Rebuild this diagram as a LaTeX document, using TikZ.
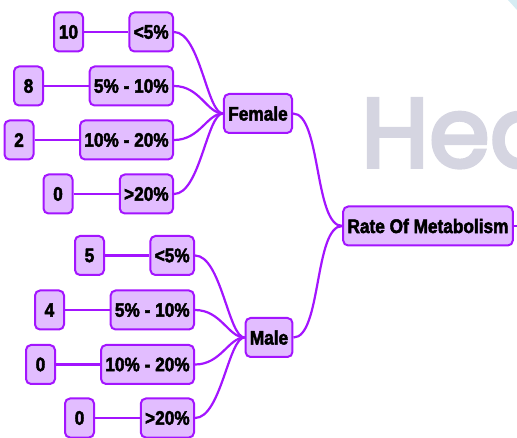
\documentclass[tikz,border=0pt]{standalone}
\usepackage{fontspec}
\setmainfont{Liberation Sans}
\newfontfamily\wmfont{Poppins}
\definecolor{boxfill}{RGB}{226,189,255}
\definecolor{boxline}{RGB}{163,20,255}
\definecolor{wmgray}{RGB}{213,213,225}
\definecolor{cornerblue}{RGB}{214,236,243}
\newcommand{\sqtext}[1]{\scalebox{0.88}[1]{\special{pdf:code 2 Tr 0.5 w}#1\special{pdf:code 0 Tr 1 w}}}
\newcommand{\heavytext}[1]{\special{pdf:code 2 Tr 3.5 w}#1\special{pdf:code 0 Tr 1 w}}
\begin{document}
\begin{tikzpicture}[x=1pt,y=-1pt,
  box/.style={draw=boxline, fill=boxfill, line width=2pt, rounded corners=5pt,
    minimum height=39pt, minimum width=29pt, inner xsep=4.3pt, text=black,
    font=\fontsize{19.6}{22}\selectfont\bfseries},
  link/.style={draw=boxline, line width=2.2pt},
  fan/.style={link},
  watermark/.style={text=wmgray, font=\wmfont\fontsize{98}{98}\selectfont, inner sep=0pt}]
\useasboundingbox (0,0) rectangle (517,438);
\clip (0,0) rectangle (517,438);
% background decorations
\fill[cornerblue] (508,0) -- (517,0) -- (517,10) -- cycle;
\node[watermark, anchor=base west] (wm) at (361,167) {\heavytext{Hea}};

% central and group nodes
\node[box] (rate) at (428,226) {\sqtext{Rate Of Metabolism}};
\node[box] (female) at (258,113.5) {\sqtext{Female}};
\node[box] (male) at (269,337.5) {\sqtext{Male}};
\coordinate (stub) at (530,226);

% female ranges
\node[box, anchor=east] (fa) at (174,32) {\sqtext{<5\%}};
\node[box, anchor=east] (fb) at (174,86) {\sqtext{5\% - 10\%}};
\node[box, anchor=east] (fc) at (174,140) {\sqtext{10\% - 20\%}};
\node[box, anchor=east] (fd) at (174,194) {\sqtext{>20\%}};
\node[box] (fna) at (68.5,32) {\sqtext{10}};
\node[box] (fnb) at (28.5,86) {\sqtext{8}};
\node[box] (fnc) at (19,140) {\sqtext{2}};
\node[box] (fnd) at (58,194) {\sqtext{0}};

% male ranges
\node[box, anchor=east] (ma) at (195,255.5) {\sqtext{<5\%}};
\node[box, anchor=east] (mb) at (195,310) {\sqtext{5\% - 10\%}};
\node[box, anchor=east] (mc) at (195,364.5) {\sqtext{10\% - 20\%}};
\node[box, anchor=east] (md) at (195,418) {\sqtext{>20\%}};
\node[box] (mna) at (89.5,255.5) {\sqtext{5}};
\node[box] (mnb) at (49.5,310) {\sqtext{4}};
\node[box] (mnc) at (40.5,364.5) {\sqtext{0}};
\node[box] (mnd) at (79.5,418) {\sqtext{0}};

% connectors
\draw[link] (rate.east) -- (stub);
\draw[link] (female.east) .. controls +(28,0) and +(-28,0) .. (rate.west);
\draw[link] (male.east) .. controls +(28,0) and +(-28,0) .. (rate.west);
\foreach \n in {fa,fb,fc,fd}
  \draw[fan] (\n.east) .. controls +(26,0) and +(-16,0) .. (female.west);
\foreach \n in {ma,mb,mc,md}
  \draw[fan] (\n.east) .. controls +(26,0) and +(-16,0) .. (male.west);
\draw[link] (fna.east) -- (fa.west);
\draw[link] (fnb.east) -- (fb.west);
\draw[link] (fnc.east) -- (fc.west);
\draw[link] (fnd.east) -- (fd.west);
\draw[link] (mna.east) -- (ma.west);
\draw[link] (mnb.east) -- (mb.west);
\draw[link] (mnc.east) -- (mc.west);
\draw[link] (mnd.east) -- (md.west);
\end{tikzpicture}
\end{document}
